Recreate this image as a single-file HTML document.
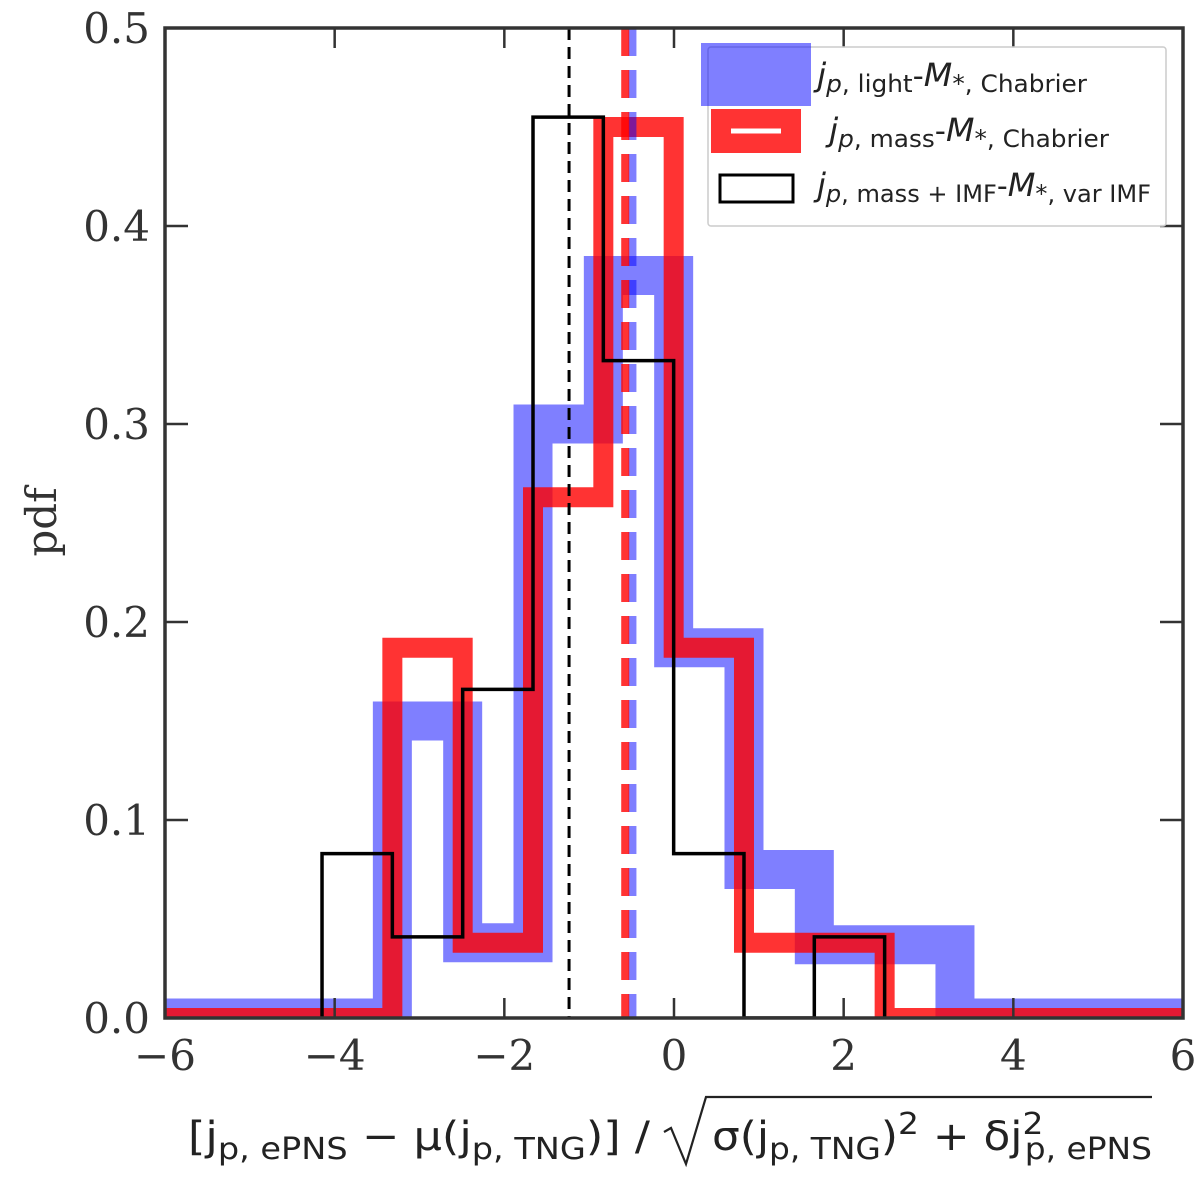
<!DOCTYPE html>
<html><head><meta charset="utf-8"><style>
body{margin:0;background:#fff}
svg{display:block}
.tk{font-family:"DejaVu Serif","Liberation Serif",serif;font-size:42px;fill:#333}
.lg{font-family:"DejaVu Sans","Liberation Sans",sans-serif;font-size:28px;fill:#222}
.xl{font-family:"DejaVu Sans","Liberation Sans",sans-serif;font-size:40px;fill:#222}
</style></head><body>
<svg id="chart" width="1200" height="1186" xmlns="http://www.w3.org/2000/svg">
<defs><clipPath id="clip"><rect x="165" y="28" width="1018" height="990"/></clipPath></defs>
<g id="plot" clip-path="url(#clip)"></g>
<g id="axes"></g>
<g>
<rect x="708" y="47" width="458" height="179" rx="3" fill="#fff" fill-opacity="0.85" stroke="#ccc" stroke-width="1.5"/>
<rect x="701" y="43" width="110" height="63" fill="#0000ff" fill-opacity="0.5"/>
<rect x="711" y="109" width="90" height="44" fill="#ff0000" fill-opacity="0.8"/>
<line x1="731" y1="131" x2="781" y2="131" stroke="#fff" stroke-width="5"/>
<rect x="720" y="175" width="73" height="27" fill="none" stroke="#000" stroke-width="3"/>
<text class="lg" x="817" y="86" textLength="270" lengthAdjust="spacingAndGlyphs"><tspan font-style="italic" font-size="32">j</tspan><tspan font-size="24" dy="6"><tspan font-style="italic">p</tspan>, light</tspan><tspan dy="-6" font-size="30">-</tspan><tspan font-style="italic" font-size="32">M</tspan><tspan font-size="24" dy="6">*, Chabrier</tspan></text>
<text class="lg" x="829" y="141" textLength="280" lengthAdjust="spacingAndGlyphs"><tspan font-style="italic" font-size="32">j</tspan><tspan font-size="24" dy="6"><tspan font-style="italic">p</tspan>, mass</tspan><tspan dy="-6" font-size="30">-</tspan><tspan font-style="italic" font-size="32">M</tspan><tspan font-size="24" dy="6">*, Chabrier</tspan></text>
<text class="lg" x="817" y="196" textLength="334" lengthAdjust="spacingAndGlyphs"><tspan font-style="italic" font-size="32">j</tspan><tspan font-size="24" dy="6"><tspan font-style="italic">p</tspan>, mass + IMF</tspan><tspan dy="-6" font-size="30">-</tspan><tspan font-style="italic" font-size="32">M</tspan><tspan font-size="24" dy="6">*, var IMF</tspan></text>
</g>
<text class="xl" x="188" y="1150" textLength="462" lengthAdjust="spacingAndGlyphs">[j<tspan font-size="30" dy="9">p, ePNS</tspan><tspan dy="-9"> − μ(j</tspan><tspan font-size="30" dy="9">p, TNG</tspan><tspan dy="-9">)] /</tspan></text>
<path d="M664 1132 L671 1128 L686 1164 L706 1097 L1152 1097" fill="none" stroke="#222" stroke-width="2.2"/>
<text class="xl" x="712" y="1150" textLength="440" lengthAdjust="spacingAndGlyphs">σ(j<tspan font-size="30" dy="9">p, TNG</tspan><tspan dy="-9">)</tspan><tspan font-size="30" dy="-16">2</tspan><tspan dy="16"> + δj</tspan><tspan font-size="30" dy="-16">2</tspan><tspan font-size="30" dx="-17" dy="25">p, ePNS</tspan></text>
<text class="tk" transform="translate(56,522) rotate(-90)" text-anchor="middle">pdf</text>
</svg>
<script>
const binStart = -4.149;
const binWidth = 0.829;
const lightVals = [0, 0.15, 0.038, 0.30, 0.375, 0.187, 0.075, 0.037, 0.037, 0];
const massVals = [0, 0.187, 0.038, 0.263, 0.45, 0.187, 0.038, 0.038, 0, 0];
const varImfVals = [0.083, 0.041, 0.166, 0.455, 0.332, 0.083, 0, 0.041];
const medians = [-1.237, -0.575, -0.49];
const xTicks = [-6, -4, -2, 0, 2, 4, 6];
const yTicks = [0.0, 0.1, 0.2, 0.3, 0.4, 0.5];
const X0 = 165, X1 = 1183, Y0 = 1018, Y1 = 28;
const xs = v => X0 + (v + 6) / 12 * (X1 - X0);
const ys = v => Y0 - v / 0.5 * (Y0 - Y1);
const NS = 'http://www.w3.org/2000/svg';
const plot = document.getElementById('plot');
const axes = document.getElementById('axes');
function mk(tag, attrs, parent) { const e = document.createElementNS(NS, tag); for (const k in attrs) e.setAttribute(k, attrs[k]); parent.appendChild(e); return e; }
function stepPts(vals, extend) {
  let pts = [];
  if (extend) pts.push([xs(-7), ys(0)]);
  pts.push([xs(binStart), ys(0)]);
  vals.forEach((v, i) => {
    const a = binStart + i * binWidth, b = a + binWidth;
    pts.push([xs(a), ys(v)]); pts.push([xs(b), ys(v)]);
  });
  const end = binStart + vals.length * binWidth;
  pts.push([xs(end), ys(0)]);
  if (extend) pts.push([xs(7), ys(0)]);
  return pts.map(p => p.join(',')).join(' ');
}
let p;
p = mk('polyline', {points: stepPts(lightVals, true), fill: 'none', stroke: '#0000ff', 'stroke-opacity': 0.5, 'stroke-width': 39, 'stroke-linejoin': 'miter'}, plot);


p = mk('polyline', {points: stepPts(massVals, true), fill: 'none', stroke: '#ff0000', 'stroke-opacity': 0.8, 'stroke-width': 20, 'stroke-linejoin': 'miter'}, plot);


p = mk('polyline', {points: stepPts(varImfVals, false), fill: 'none', stroke: '#000', 'stroke-width': 3.5, 'stroke-linejoin': 'miter'}, plot);


p = mk('line', {x1: xs(medians[2]), x2: xs(medians[2]), y1: Y1, y2: Y0, stroke: '#0000ff', 'stroke-opacity': 0.5, 'stroke-width': 8, 'stroke-dasharray': '28 14'}, plot);


p = mk('line', {x1: xs(medians[1]), x2: xs(medians[1]), y1: Y1, y2: Y0, stroke: '#ff0000', 'stroke-opacity': 0.8, 'stroke-width': 8, 'stroke-dasharray': '28 14'}, plot);


p = mk('line', {x1: xs(medians[0]), x2: xs(medians[0]), y1: Y1, y2: Y0, stroke: '#000', 'stroke-width': 3, 'stroke-dasharray': '12 7'}, plot);


xTicks.forEach(t => {
  const x = xs(t);
  let e = mk('line', {x1: x, x2: x, y1: Y0, y2: Y0 - 20, stroke: '#333', 'stroke-width': 2.5}, axes);
  
  
  e = mk('line', {x1: x, x2: x, y1: Y1, y2: Y1 + 20, stroke: '#333', 'stroke-width': 2.5}, axes);
  
  
  e = mk('text', {x: x, y: 1070, 'text-anchor': 'middle', class: 'tk'}, axes);
  e.textContent = t < 0 ? '−' + Math.abs(t) : String(t);
  
  
});
yTicks.forEach(t => {
  const y = ys(t);
  let e = mk('line', {x1: X0, x2: X0 + 23, y1: y, y2: y, stroke: '#333', 'stroke-width': 2.5}, axes);
  
  
  e = mk('line', {x1: X1, x2: X1 - 23, y1: y, y2: y, stroke: '#333', 'stroke-width': 2.5}, axes);
  
  
  e = mk('text', {x: 150, y: y + 15, 'text-anchor': 'end', class: 'tk'}, axes);
  e.textContent = t.toFixed(1);
  
  
});
const fr = mk('rect', {x: X0, y: Y1, width: X1 - X0, height: Y0 - Y1, fill: 'none', stroke: '#333', 'stroke-width': 3.5}, axes);


</script>
</body></html>
